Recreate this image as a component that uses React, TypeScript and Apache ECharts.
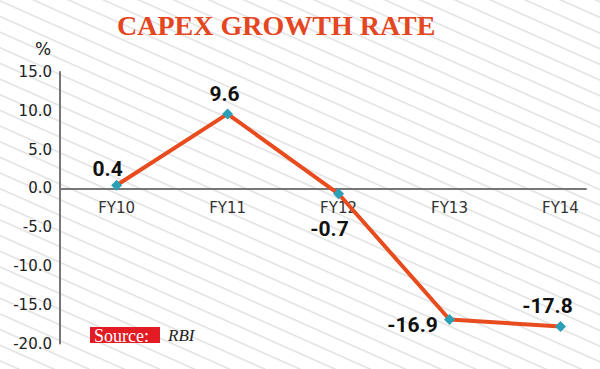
import React, { useEffect, useRef } from "react";
import * as echarts from "echarts";

const categories = ["FY10", "FY11", "FY12", "FY13", "FY14"];
const growth = [0.4, 9.6, -0.7, -16.9, -17.8];
const yTicks = [-20, -15, -10, -5, 0, 5, 10, 15];
const labelOffsets: [number, number][] = [
  [-9, -16],
  [-3, -20],
  [-9, 35],
  [-37, 6],
  [-13, -20],
];

const GRID_TOP = 72;
const GRID_BOTTOM = 25.5;
const CHART_H = 369;

export default function App() {
  const ref = useRef<HTMLDivElement>(null);
  useEffect(() => {
    document.body.style.margin = "0";
    if (!ref.current) return;
    const chart = echarts.init(ref.current, undefined, { renderer: "svg" });
    const yMin = yTicks[0];
    const yMax = yTicks[yTicks.length - 1];
    const gridH = CHART_H - GRID_TOP - GRID_BOTTOM;
    const zeroOffset = -gridH * (0 - yMin) / (yMax - yMin);
    chart.setOption({
      animation: false,
      backgroundColor: "transparent",
      title: {
        text: "CAPEX GROWTH RATE",
        left: 117,
        top: 11,
        padding: 0,
        textStyle: {
          fontFamily: "Liberation Serif",
          fontWeight: "bold",
          fontSize: 28,
          color: "#e4461f",
        },
      },
      grid: { left: 60, right: 14, top: GRID_TOP, bottom: GRID_BOTTOM },
      xAxis: {
        type: "value",
        min: -0.51,
        max: 4.23,
        position: "bottom",
        offset: zeroOffset,
        axisLine: { show: true, onZero: false, lineStyle: { color: "#777", width: 2 } },
        axisTick: { show: false },
        splitLine: { show: false },
        axisLabel: {
          customValues: categories.map((_, i) => i),
          formatter: (v: number) => categories[Math.round(v)] ?? "",
          fontFamily: "DejaVu Sans",
          fontSize: 15,
          color: "#333",
          margin: 12,
        },
      },
      yAxis: {
        type: "value",
        min: yMin,
        max: yMax,
        interval: 5,
        axisLine: { show: true, onZero: false, lineStyle: { color: "#777", width: 2 } },
        axisTick: { show: false },
        splitLine: { show: false },
        axisLabel: {
          formatter: (v: number) => v.toFixed(1),
          fontFamily: "DejaVu Sans",
          fontSize: 15,
          color: "#222",
          margin: 8,
        },
      },
      series: [
        {
          type: "line",
          data: growth.map((v, i) => ({
            value: [i, v],
            label: { offset: labelOffsets[i] },
          })),
          lineStyle: { color: "#e84c1e", width: 4 },
          symbol: "diamond",
          symbolSize: 11,
          itemStyle: { color: "#2b9fb6" },
          label: {
            show: true,
            position: "inside",
            formatter: (p: any) => p.value[1].toFixed(1),
            fontFamily: "Roboto",
            fontWeight: "bold",
            fontSize: 21,
            color: "#111",
          },
        },
      ],
      graphic: [
        {
          type: "text",
          left: 35,
          top: 40,
          style: { text: "%", fontFamily: "DejaVu Sans", fontSize: 17, fill: "#222" },
        },
        {
          type: "rect",
          shape: { x: 90, y: 327, width: 70, height: 16 },
          style: { fill: "#e31b23" },
        },
        {
          type: "text",
          x: 94,
          y: 335.5,
          style: {
            text: "Source:",
            fontFamily: "Liberation Serif",
            fontSize: 18,
            fill: "#fff",
            verticalAlign: "middle",
          },
        },
        {
          type: "text",
          x: 168,
          y: 335.5,
          style: {
            text: "RBI",
            fontFamily: "Liberation Serif",
            fontStyle: "italic",
            fontSize: 17,
            fill: "#222",
            verticalAlign: "middle",
          },
        },
      ],
    });
    return () => chart.dispose();
  }, []);
  return (
    <div style={{ position: "relative", width: 600, height: 369, background: "#fff" }}>
      <svg
        width={600}
        height={369}
        style={{ position: "absolute", left: 0, top: 0 }}
      >
        <defs>
          <pattern
            id="hatch"
            width={20}
            height={14.3}
            patternUnits="userSpaceOnUse"
            patternTransform="rotate(24)"
          >
            <line x1={0} y1={0.7} x2={20} y2={0.7} stroke="#dedede" strokeWidth={1.4} />
          </pattern>
        </defs>
        <rect x={0} y={0} width={600} height={369} fill="url(#hatch)" />
      </svg>
      <div ref={ref} style={{ position: "absolute", left: 0, top: 0, width: 600, height: 369 }} />
    </div>
  );
}
